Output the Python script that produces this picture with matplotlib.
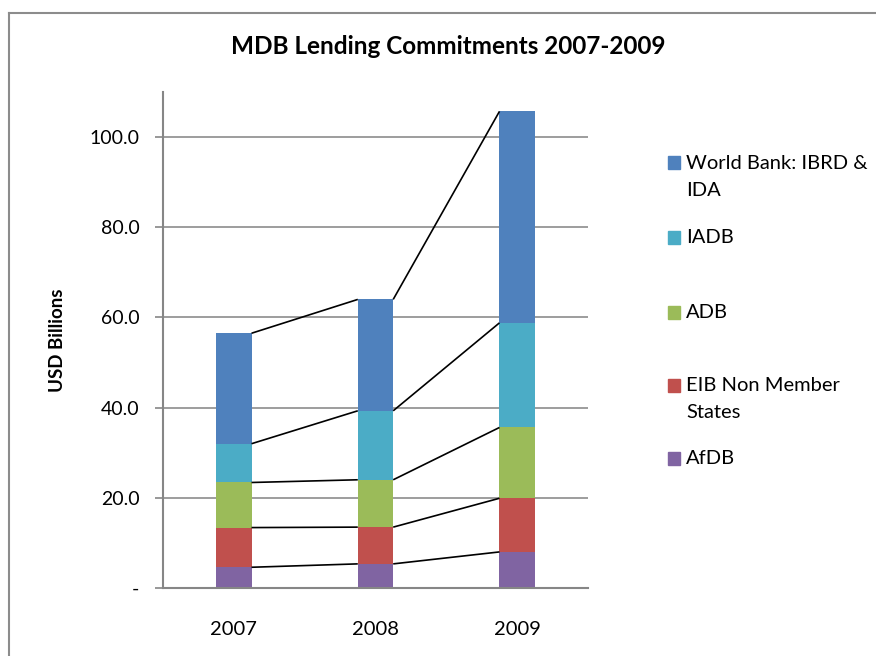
import numpy as np
import matplotlib
matplotlib.use("Agg")
import matplotlib.pyplot as plt
from matplotlib.patches import Rectangle

plt.rcParams["font.family"] = ["Lato", "DejaVu Sans"]

years = ["2007", "2008", "2009"]
# bottom to top stacking order
series = ["AfDB", "EIB Non Member States", "ADB", "IADB", "World Bank: IBRD & IDA"]
afdb = [4.6, 5.35, 8.0]
eib = [8.8, 8.15, 11.9]
adb = [10.0, 10.5, 15.7]
iadb = [8.6, 15.3, 23.2]
world_bank = [24.5, 24.7, 46.9]
colors = ["#8064A2", "#C0504D", "#9BBB59", "#4BACC6", "#4F81BD"]

legend_labels = ["World Bank: IBRD &\nIDA", "IADB", "ADB", "EIB Non Member\nStates", "AfDB"]

fig = plt.figure(figsize=(8.76, 6.56), dpi=100)
ax = fig.add_axes([163 / 876, 1 - 588 / 656, 425 / 876, 496 / 656])

x = np.arange(len(years))
bw = 0.25
bottom = np.zeros(len(years))
tops = []
for vals, col in zip([afdb, eib, adb, iadb, world_bank], colors):
    vals = np.array(vals)
    ax.bar(x, vals, bw, bottom=bottom, color=col, zorder=2)
    bottom = bottom + vals
    tops.append(bottom.copy())

# series lines between stacked segments
for t in tops:
    for i in range(len(years) - 1):
        ax.plot([x[i] + bw / 2, x[i + 1] - bw / 2], [t[i], t[i + 1]],
                color="black", lw=1.2, zorder=3, solid_capstyle="butt")

ax.set_xlim(-0.5, 2.5)
ax.set_ylim(0, 110)
ax.set_xticks(x)
ax.set_xticklabels(years, fontsize=14.5)
ax.tick_params(axis="x", length=0, pad=24)
ticks = np.arange(0, 101, 20)
ax.set_yticks(ticks)
ax.set_yticklabels(["-" if v == 0 else f"{v:.1f}" for v in ticks], fontsize=14)
ax.tick_params(axis="y", length=6, color="#868686", width=1.2, pad=11)
ax.yaxis.grid(True, color="#8c8c8c", lw=1.2, zorder=0)
ax.set_axisbelow(True)
for s in ["top", "right"]:
    ax.spines[s].set_visible(False)
for s in ["left", "bottom"]:
    ax.spines[s].set_color("#868686")
    ax.spines[s].set_linewidth(1.5)

ax.set_ylabel("USD Billions", fontsize=13.5, fontweight="bold", labelpad=17)
fig.text(448 / 876, 1 - 47 / 656, "MDB Lending Commitments 2007-2009",
         fontsize=17.5, fontweight="bold", ha="center", va="center")

# legend, top entry first
legend_y = [163, 237, 312, 385, 458]
for lab, col, yy in zip(legend_labels, colors[::-1], legend_y):
    fig.patches.append(Rectangle((668 / 876, 1 - (yy + 6.5) / 656), 12 / 876, 13 / 656,
                                 transform=fig.transFigure, color=col))
    fig.text(686 / 876, 1 - (yy - 8) / 656, lab, fontsize=14.5, va="top", ha="left",
             linespacing=1.7)

# chart border
fig.add_artist(plt.Line2D([9 / 876, 9 / 876], [0, 1 - 13 / 656], color="#8c8c8c", lw=1.5,
                          transform=fig.transFigure))
fig.add_artist(plt.Line2D([9 / 876, 1], [1 - 13 / 656, 1 - 13 / 656], color="#8c8c8c", lw=1.5,
                          transform=fig.transFigure))

fig.savefig("out.png", dpi=100)
